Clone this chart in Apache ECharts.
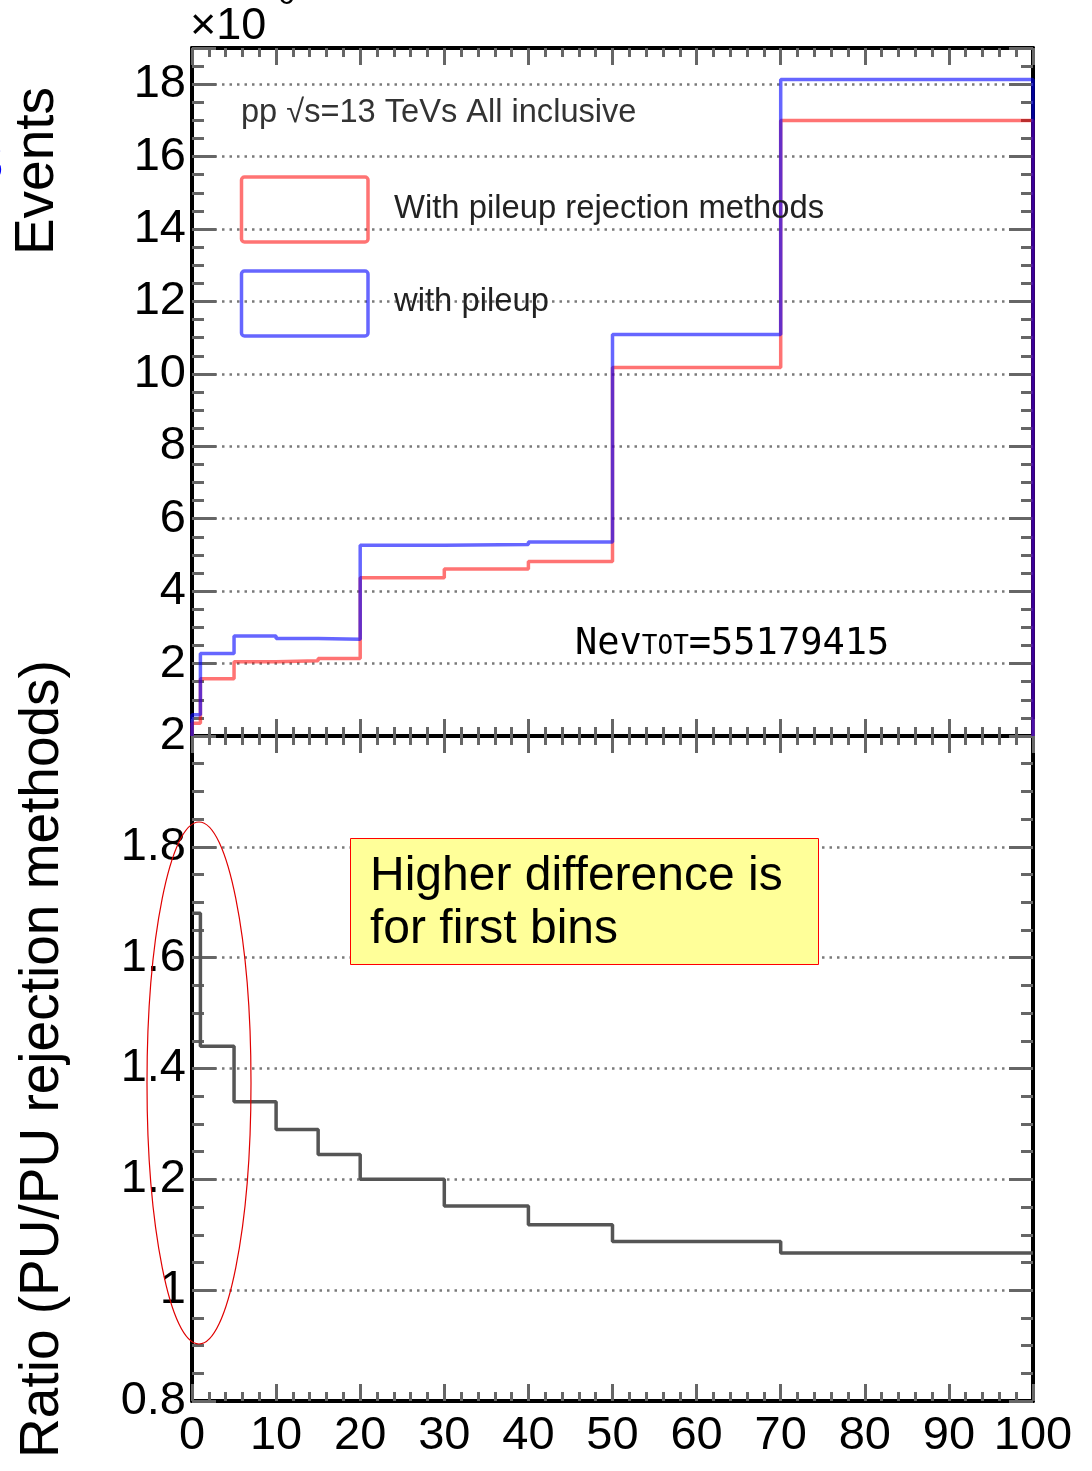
<!DOCTYPE html>
<html>
<head>
<meta charset="utf-8">
<script src="https://cdn.jsdelivr.net/npm/echarts@6/dist/echarts.min.js"></script>
<style>
html,body{margin:0;padding:0;background:#fff;}
#chart{width:1092px;height:1471px;}
</style>
</head>
<body>
<div id="chart"></div>
<script>
// ---- data ----
const binEdges = [0, 1, 5, 10, 15, 20, 30, 40, 50, 70, 100];
const withRejection = [0.35, 1.58, 2.05, 2.08, 2.14, 4.37, 4.61, 4.82, 10.18, 17.0]; // x10^6
const withPileup    = [0.59, 2.28, 2.76, 2.69, 2.67, 5.27, 5.29, 5.36, 11.09, 18.13]; // x10^6
const ratioValues   = [1.68, 1.44, 1.34, 1.29, 1.245, 1.20, 1.152, 1.118, 1.088, 1.067];
const topYTicks = {min: 0, max: 19, interval: 2};
const ratioYTicks = {min: 0.8, max: 2, interval: 0.2};
const xTicks = {min: 0, max: 100, interval: 10};
const labels = {
  exponent: '×10', exponentSup: '6',
  info: 'pp √s=13 TeVs All inclusive',
  red: 'With pileup rejection methods',
  blue: 'with pileup',
  nevA: 'Nev', nevB: 'TOT', nevC: '=55179415',
  note: 'Higher difference is\nfor first bins',
  yTop: 'Events',
  yBottom: 'Ratio (PU/PU rejection methods)'
};

function histPoints(vals, closed) {
  const pts = [];
  const last = binEdges.length - 1;
  if (closed) pts.push([binEdges[0], 0]);
  vals.forEach((v, i) => pts.push([binEdges[i], v]));
  pts.push([binEdges[last], vals[vals.length - 1]]);
  if (closed) pts.push([binEdges[last], 0]);
  return pts;
}

const FONT = '"Liberation Sans", Arial, Helvetica, sans-serif';
const tickStyle = {color: '#666', width: 3};
const dotted = {color: '#7a7a7a', width: 2.5, type: [2.5, 5]};

function xAx(grid, pos, showLabel) {
  return {
    gridIndex: grid, type: 'value', position: pos,
    min: xTicks.min, max: xTicks.max, interval: xTicks.interval,
    axisLine: {show: true, onZero: false, lineStyle: {color: '#000', width: 4}},
    axisTick: {show: true, inside: true, length: 17, lineStyle: tickStyle},
    minorTick: {show: true, splitNumber: 5, length: 9, lineStyle: tickStyle},
    axisLabel: {show: showLabel, fontFamily: FONT, fontSize: 47, color: '#000', margin: 12},
    splitLine: {show: false}
  };
}
function yAx(grid, pos, sc, showLabel, grid_lines, hideMin) {
  return {
    gridIndex: grid, type: 'value', position: pos,
    min: sc.min, max: sc.max, interval: sc.interval,
    axisLine: {show: true, onZero: false, lineStyle: {color: '#000', width: 4}},
    axisTick: {show: true, inside: true, length: 24, lineStyle: tickStyle},
    minorTick: {show: true, splitNumber: 4, length: 12, lineStyle: tickStyle},
    axisLabel: {show: showLabel, fontFamily: FONT, fontSize: 47, color: '#000', margin: 6,
                showMinLabel: !hideMin, showMaxLabel: !hideMin},
    splitLine: {show: grid_lines, lineStyle: dotted}
  };
}

const chart = echarts.init(document.getElementById('chart'), null, {renderer: 'canvas'});
chart.setOption({
  animation: false,
  backgroundColor: '#fff',
  grid: [
    {left: 192, top: 48, width: 841, height: 688},
    {left: 192, top: 736, width: 841, height: 665}
  ],
  xAxis: [xAx(0, 'bottom', false), xAx(0, 'top', false), xAx(1, 'bottom', true), xAx(1, 'top', false)],
  yAxis: [
    yAx(0, 'left', topYTicks, true, true, true),
    yAx(0, 'right', topYTicks, false, false, false),
    yAx(1, 'left', ratioYTicks, true, true, false),
    yAx(1, 'right', ratioYTicks, false, false, false)
  ],
  series: [
    {type: 'line', name: labels.red, xAxisIndex: 0, yAxisIndex: 0, step: 'end', symbol: 'none', clip: false,
     data: histPoints(withRejection, true), lineStyle: {color: 'rgba(255,0,0,0.55)', width: 3.5}, z: 3},
    {type: 'line', name: labels.blue, xAxisIndex: 0, yAxisIndex: 0, step: 'end', symbol: 'none', clip: false,
     data: histPoints(withPileup, true), lineStyle: {color: 'rgba(0,0,255,0.6)', width: 3.5}, z: 4},
    {type: 'line', name: 'ratio', xAxisIndex: 2, yAxisIndex: 2, step: 'end', symbol: 'none', clip: false,
     data: histPoints(ratioValues, false), lineStyle: {color: '#555', width: 3.5}, z: 3}
  ],
  graphic: [
    {type: 'text', x: 190, y: 27, z: 100, style: {text: labels.exponent, fontFamily: FONT, fontSize: 45, fill: '#000', verticalAlign: 'middle'}},
    {type: 'text', x: 278, y: -4, z: 100, style: {text: labels.exponentSup, fontFamily: FONT, fontSize: 30, fill: '#000', verticalAlign: 'middle'}},
    {type: 'text', x: 241, y: 113, z: 100, style: {text: labels.info, fontFamily: FONT, fontSize: 32.6, fill: '#333', verticalAlign: 'middle'}},
    {type: 'rect', z: 100, shape: {x: 241.5, y: 177, width: 126.5, height: 65, r: 3}, style: {fill: 'none', stroke: 'rgba(255,0,0,0.55)', lineWidth: 3.5}},
    {type: 'rect', z: 100, shape: {x: 241.5, y: 271, width: 126.5, height: 65, r: 3}, style: {fill: 'none', stroke: 'rgba(0,0,255,0.6)', lineWidth: 3.5}},
    {type: 'text', x: 394, y: 209, z: 100, style: {text: labels.red, fontFamily: FONT, fontSize: 32.8, fill: '#222', verticalAlign: 'middle'}},
    {type: 'text', x: 394, y: 302, z: 100, style: {text: labels.blue, fontFamily: FONT, fontSize: 32.8, fill: '#222', verticalAlign: 'middle'}},
    {type: 'text', x: 575, y: 643, z: 100, style: {
      text: '{a|' + labels.nevA + '}{b|' + labels.nevB + '}{a|' + labels.nevC + '}',
      verticalAlign: 'middle', fill: '#000',
      rich: {
        a: {fontFamily: '"DejaVu Sans Mono", monospace', fontSize: 37, fill: '#000', verticalAlign: 'bottom', lineHeight: 40},
        b: {fontFamily: '"DejaVu Sans Mono", monospace', fontSize: 26, fill: '#000', verticalAlign: 'bottom', lineHeight: 40, padding: [0, 0, 3, 0]}
      }}},
    {type: 'rect', z: 100, shape: {x: 350.5, y: 838.5, width: 468, height: 126}, style: {fill: '#ffff99', stroke: '#ff0000', lineWidth: 1}},
    {type: 'text', x: 370, y: 903, z: 101, style: {text: labels.note, fontFamily: FONT, fontSize: 48, lineHeight: 53, fill: '#000', verticalAlign: 'middle'}},
    {type: 'ellipse', z: 100, shape: {cx: 199, cy: 1083, rx: 52, ry: 261}, style: {fill: 'none', stroke: '#e00000', lineWidth: 1.2}},
    {type: 'text', x: 38, y: 171, z: 100, rotation: Math.PI / 2, style: {text: labels.yTop, fontFamily: FONT, fontSize: 55, fill: '#000', align: 'center', verticalAlign: 'middle'}},
    {type: 'text', x: 43, y: 1059, z: 100, rotation: Math.PI / 2, style: {text: labels.yBottom, fontFamily: FONT, fontSize: 55, fill: '#000', align: 'center', verticalAlign: 'middle'}},
    {type: 'text', x: -27, y: 165, z: 100, style: {text: '3', fontFamily: FONT, fontSize: 55, fill: '#0000ff', verticalAlign: 'middle'}}
  ]
});
</script>
</body>
</html>
